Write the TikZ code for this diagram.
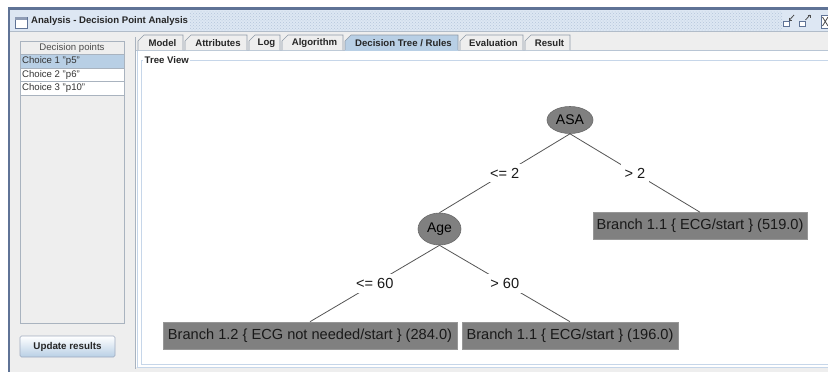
\documentclass[tikz,border=0pt]{standalone}
\usepackage{fontspec}
\setmainfont{Liberation Sans}
\usetikzlibrary{shapes.geometric,patterns}
\definecolor{frameblue}{HTML}{5F7396}
\definecolor{titlebg}{HTML}{DDE7F3}
\definecolor{titledot}{HTML}{B4C5DB}
\definecolor{panelgray}{HTML}{EEEEEE}
\definecolor{selblue}{HTML}{B8CFE5}
\definecolor{lineblue}{HTML}{C6D6E9}
\definecolor{listborder}{HTML}{A9B3BF}
\definecolor{tabborder}{HTML}{8E9AA8}
\definecolor{nodegray}{HTML}{808080}
\definecolor{nodeborder}{HTML}{6A6A6A}
\definecolor{edgegray}{HTML}{555555}
\newcommand\uifont{\fontsize{9.6}{11}\selectfont}
\newcommand\uitab[5]{%
  \draw[tabline, fill=#3] (#1,50) -- (#1,41) -- (#1+6,35) -- (#2,35) -- (#2,50);
  \node[tabtext] (#5) at ({(#1+#2)/2+2},43) {#4};}
\begin{document}
\begin{tikzpicture}[x=1pt,y=-1pt,
  tabline/.style={draw=tabborder, line width=0.7pt},
  tabtext/.style={font=\uifont\bfseries, text=black!85, inner sep=0pt},
  listtext/.style={font=\uifont, text=black!80, inner sep=0pt, anchor=west},
  dnode/.style={ellipse, fill=nodegray, draw=nodeborder, line width=0.6pt, inner sep=0pt,
    font=\fontsize{14}{16}\selectfont, text=black},
  leaf/.style={rectangle, fill=nodegray, draw=nodeborder!70, line width=0.6pt, inner sep=0pt,
    minimum height=27, font=\fontsize{14.6}{17}\selectfont, text=black!90},
  edge/.style={draw=edgegray, line width=0.8pt},
  elabel/.style={fill=white, inner xsep=4pt, inner ysep=4pt, font=\fontsize{14.6}{17}\selectfont, text=black!90}
]
\useasboundingbox (0,0) rectangle (828,372);
\fill[white] (0,0) rectangle (828,372);
% window
\fill[panelgray] (9,31) rectangle (828,372);
\fill[titlebg] (9,9) rectangle (828,31);
\fill[pattern=crosshatch dots, pattern color=titledot] (190,11) rectangle (782,30);
\draw[frameblue, line width=2.2pt] (9,372) -- (9,8.5) -- (828,8.5);
\draw[lineblue!70!gray, line width=0.6pt] (10,31.5) -- (828,31.5);
% title icon
\draw[frameblue, fill=white, line width=0.8pt] (15,17) rectangle (27,28);
\fill[frameblue!70] (15.4,17.4) rectangle (26.6,20);
\node[anchor=west, font=\uifont\bfseries, text=black!85, inner sep=0pt] (title) at (31,21.5) {Analysis - Decision Point Analysis};
% title bar buttons
\draw[frameblue, fill=white, line width=0.7pt] (783,21) rectangle (789,26);
\draw[black!70, line width=0.8pt] (794,15) -- (789.5,20);
\draw[black!70, line width=0.8pt] (789.5,17.5) -- (789.5,20) -- (792,20);
\draw[frameblue, fill=white, line width=0.7pt] (799,21) rectangle (805,26);
\draw[black!70, line width=0.8pt] (805.5,20) -- (810,15);
\draw[black!70, line width=0.8pt] (807.5,15) -- (810,15) -- (810,17.5);
\draw[frameblue, fill=white, line width=0.7pt] (821,15) rectangle (830,28);
\draw[black!70, line width=0.8pt] (822.5,17) -- (828,26) (822.5,26) -- (828,17);
% left list
\draw[listborder, fill=panelgray, line width=0.7pt] (20,41) rectangle (124,323);
\draw[listborder, fill=panelgray, line width=0.7pt] (20,41) rectangle (124,54.5);
\node[font=\uifont, text=black!70, inner sep=0pt] (dphead) at (72,48.5) {Decision points};
\draw[listborder, fill=selblue, line width=0.7pt] (20,54.5) rectangle (124,68);
\draw[listborder, fill=white, line width=0.7pt] (20,68) rectangle (124,81.5);
\draw[listborder, fill=white, line width=0.7pt] (20,81.5) rectangle (124,95);
\node[listtext] (c1) at (22,61.5) {Choice 1 "p5"};
\node[listtext] (c2) at (22,75) {Choice 2 "p6"};
\node[listtext] (c3) at (22,88.5) {Choice 3 "p10"};
% update button
\shade[top color=white, bottom color=selblue, rounded corners=1.5pt] (20,336) rectangle (115,357);
\draw[frameblue!60, line width=0.7pt, rounded corners=1.5pt] (20,336) rectangle (115,357);
\node[font=\fontsize{9.8}{11}\selectfont\bfseries, text=black!85, inner sep=0pt] (upd) at (67.5,346.5) {Update results};
% tab pane
\fill[white] (136,50) rectangle (828,367);
\draw[listborder, line width=0.7pt] (135,37) -- (135,369);
\draw[lineblue, line width=0.8pt] (137,50) -- (137,367.5) -- (828,367.5);
\draw[lineblue!80!gray, line width=0.8pt] (136,50.2) -- (828,50.2);
\uitab{138}{183}{panelgray}{Model}{tmodel}
\uitab{185}{247}{panelgray}{Attributes}{tattr}
\uitab{249}{280}{panelgray}{Log}{tlog}
\uitab{282}{343}{panelgray}{Algorithm}{talg}
\uitab{345}{458}{selblue}{Decision Tree / Rules}{ttree}
\uitab{460}{523}{panelgray}{Evaluation}{teval}
\uitab{525}{570}{panelgray}{Result}{tres}
\fill[selblue] (345.4,49.5) rectangle (457.6,51);
% tree view border
\draw[lineblue, line width=0.8pt] (830,60) -- (141,60) -- (141,364) -- (830,364);
\node[anchor=west, fill=white, inner xsep=1.5pt, inner ysep=1pt, font=\uifont\bfseries, text=black!85] (tv) at (143,60) {Tree View};
% tree
\node[dnode, minimum width=46, minimum height=27] (asa) at (570,120) {ASA};
\node[dnode, minimum width=43, minimum height=32] (age) at (439.5,229) {Age};
\node[leaf, minimum width=214] (b11a) at (700,226) {Branch 1.1 \{ ECG/start \} (519.0)};
\node[leaf, minimum width=294] (b12) at (310,335.5) {Branch 1.2 \{ ECG not needed/start \} (284.0)};
\node[leaf, minimum width=216] (b11b) at (570,335.5) {Branch 1.1 \{ ECG/start \} (196.0)};
\draw[edge] (asa.south) -- node[elabel] (l1) {<= 2} (age.north);
\draw[edge] (asa.south) -- node[elabel] (l2) {> 2} (b11a.north);
\draw[edge] (age.south) -- node[elabel] (l3) {<= 60} (b12.north);
\draw[edge] (age.south) -- node[elabel] (l4) {> 60} (b11b.north);
\end{tikzpicture}
\end{document}
